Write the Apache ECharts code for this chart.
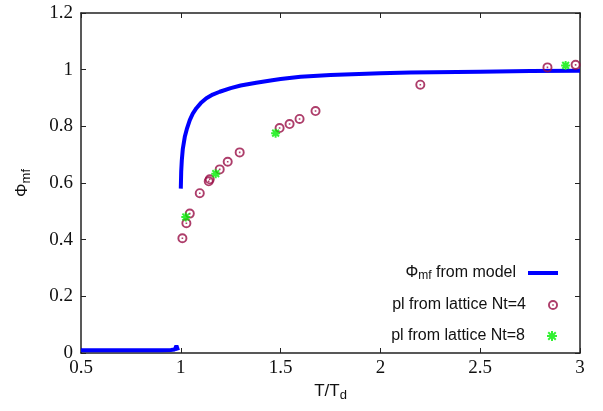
<!DOCTYPE html>
<html>
<head>
<meta charset="utf-8">
<script src="https://cdn.jsdelivr.net/npm/echarts@6.0.0/dist/echarts.min.js"></script>
<style>
  html, body { margin: 0; padding: 0; background: #fff; }
  #chart { width: 603px; height: 411px; }
</style>
</head>
<body>
<div id="chart"></div>
<script>
// Mean-field Polyakov loop from the model (confined branch, then deconfined branch)
const modelLow = [
  [0.5, 0.01], [0.6, 0.01], [0.7, 0.01], [0.8, 0.01], [0.9, 0.01],
  [0.95, 0.011], [0.97, 0.012], [0.978, 0.026], [0.986, 0.009]
];
const modelHigh = [
  [1.0, 0.58], [1.002, 0.64], [1.005, 0.68], [1.01, 0.72], [1.02, 0.763],
  [1.03, 0.79], [1.045, 0.822], [1.06, 0.845], [1.078, 0.864], [1.1, 0.882],
  [1.128, 0.899], [1.16, 0.912], [1.195, 0.922], [1.25, 0.935], [1.3, 0.944],
  [1.378, 0.954], [1.45, 0.962], [1.5, 0.967], [1.6, 0.975], [1.75, 0.981],
  [2.0, 0.987], [2.15, 0.99], [2.5, 0.993], [2.75, 0.995], [3.0, 0.996]
];
// Lattice Polyakov loop, Nt = 4
const latticeNt4 = [
  [1.008, 0.405], [1.028, 0.458], [1.045, 0.492], [1.095, 0.564],
  [1.14, 0.606], [1.145, 0.613], [1.195, 0.648], [1.235, 0.675],
  [1.295, 0.708], [1.495, 0.794], [1.545, 0.808], [1.595, 0.826],
  [1.675, 0.854], [2.2, 0.947], [2.837, 1.008], [2.978, 1.017]
];
// Lattice Polyakov loop, Nt = 8
const latticeNt8 = [
  [1.025, 0.48], [1.175, 0.633], [1.475, 0.776], [2.928, 1.015]
];
const xTicks = { min: 0.5, max: 3, step: 0.5 };
const yTicks = { min: 0, max: 1.2, step: 0.2 };

const NAME_MODEL = 'model';
const NAME_NT4 = 'Nt4';
const NAME_NT8 = 'Nt8';

const BLUE = '#0000ff';
const RED = '#980d45';
const GREEN = '#00ee00';
const AXIS = '#222';

const ringDot = 'path://M0,-5A5,5,0,1,1,0,5A5,5,0,1,1,0,-5ZM0,-3.1A3.1,3.1,0,1,0,0,3.1A3.1,3.1,0,1,0,0,-3.1ZM-0.8,-0.8L0.8,-0.8L0.8,0.8L-0.8,0.8Z';
const asterisk = 'path://M-4,0L4,0M0,-4L0,4M-3,-3L3,3M-3,3L3,-3';

const serif = '"Liberation Serif", "DejaVu Serif", serif';
const sans = '"Liberation Sans", Arial, sans-serif';

const modelData = modelLow.concat([[0.995, null]], modelHigh);

const axisCommon = {
  type: 'value',
  splitLine: { show: false },
  axisLine: { show: true, onZero: false, lineStyle: { color: AXIS, width: 1.5 } },
  axisTick: { show: true, inside: true, length: 5, lineStyle: { color: AXIS, width: 1 } },
};

const legendText = {
  fontFamily: sans, fontSize: 16, color: '#111',
  padding: [0, 7, 0, 0],
  rich: {
    t: { fontFamily: sans, fontSize: 16, color: '#111' },
    s: { fontFamily: sans, fontSize: 12, color: '#111', verticalAlign: 'bottom', padding: [6, 0, 0, 0] }
  }
};

function legendOf(item, top, fmt, h) {
  return {
    data: [item], right: 40, top: top, orient: 'vertical', align: 'right',
    itemWidth: 30, itemHeight: h, selectedMode: false,
    formatter: fmt, textStyle: legendText
  };
}

const nameStyle = {
  fontFamily: sans, fontSize: 17, color: '#111',
  rich: { s: { fontFamily: sans, fontSize: 13, color: '#111', verticalAlign: 'bottom', padding: [8, 0, 0, 0] } }
};

const chart = echarts.init(document.getElementById('chart'), null, { renderer: 'canvas' });
chart.setOption({
  animation: false,
  backgroundColor: '#fff',
  grid: { left: 81, right: 23, top: 13, bottom: 58 },
  legend: [
    legendOf({ name: NAME_MODEL, icon: 'rect', itemStyle: { color: BLUE } }, 260, () => '{t|Φ}{s|mf}{t| from model}', 4),
    legendOf({ name: NAME_NT4 }, 292, () => 'pl from lattice Nt=4', 10),
    legendOf({ name: NAME_NT8 }, 323, () => 'pl from lattice Nt=8', 10)
  ],
  xAxis: [
    Object.assign({}, axisCommon, {
      min: xTicks.min, max: xTicks.max, interval: xTicks.step,
      axisLabel: { fontFamily: serif, fontSize: 19, color: '#111', margin: 6 },
      name: 'T/T{s|d}', nameLocation: 'middle', nameGap: 19,
      nameTextStyle: nameStyle
    }),
    Object.assign({}, axisCommon, {
      position: 'top', min: xTicks.min, max: xTicks.max, interval: xTicks.step,
      axisLabel: { show: false }
    })
  ],
  yAxis: [
    Object.assign({}, axisCommon, {
      min: yTicks.min, max: yTicks.max, interval: yTicks.step,
      axisLabel: { fontFamily: serif, fontSize: 19, color: '#111', margin: 8 },
      name: 'Φ{s|mf}', nameLocation: 'middle', nameGap: 48,
      nameTextStyle: nameStyle
    }),
    Object.assign({}, axisCommon, {
      position: 'right', min: yTicks.min, max: yTicks.max, interval: yTicks.step,
      axisLabel: { show: false }
    })
  ],
  series: [
    {
      name: NAME_MODEL, type: 'line', data: modelData,
      showSymbol: false, symbol: 'none', connectNulls: false,
      lineStyle: { color: BLUE, width: 4 }, itemStyle: { color: BLUE },
      z: 3
    },
    {
      name: NAME_NT4, type: 'scatter', data: latticeNt4,
      symbol: ringDot, symbolSize: 10,
      itemStyle: { color: RED },
      z: 4
    },
    {
      name: NAME_NT8, type: 'scatter', data: latticeNt8,
      symbol: asterisk, symbolSize: 9,
      itemStyle: { color: GREEN, borderColor: GREEN, borderWidth: 2 },
      z: 5
    }
  ]
});
</script>
</body>
</html>
